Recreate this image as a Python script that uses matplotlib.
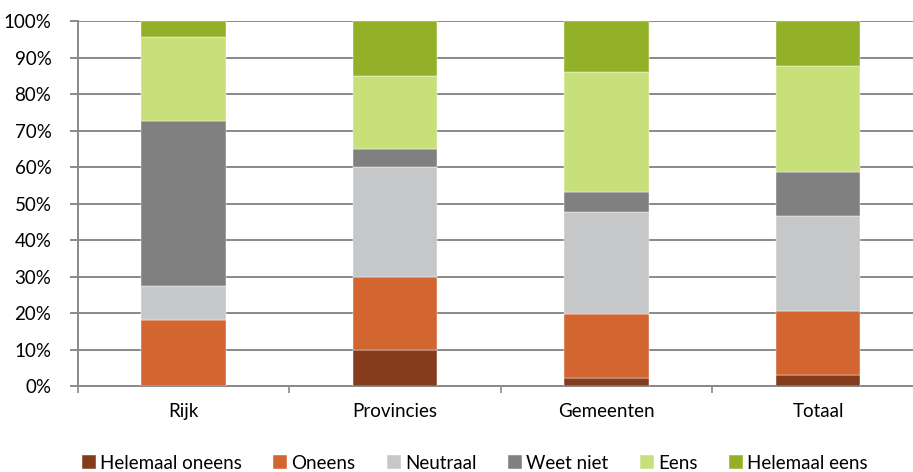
import matplotlib.pyplot as plt
import numpy as np

plt.rcParams['font.family'] = ['Lato', 'DejaVu Sans']

# categories and answer shares (percent)
categories = ["Rijk", "Provincies", "Gemeenten", "Totaal"]
answers = ["Helemaal oneens", "Oneens", "Neutraal", "Weet niet", "Eens", "Helemaal eens"]
helemaal_oneens = [0.0, 10.0, 2.1, 2.9]
oneens = [18.2, 20.0, 17.5, 17.7]
neutraal = [9.1, 30.0, 28.0, 25.9]
weet_niet = [45.4, 5.0, 5.6, 12.2]
eens = [22.8, 20.0, 32.9, 29.0]
helemaal_eens = [4.5, 15.0, 13.9, 12.3]

colors = ["#843C1C", "#D26530", "#C6C7C8", "#808080", "#C8E07A", "#93B029"]
series = [helemaal_oneens, oneens, neutraal, weet_niet, eens, helemaal_eens]

fig = plt.figure(figsize=(9.13, 4.72), dpi=100)
ax = fig.add_axes([0.0852, 0.1822, 0.9266, 0.7733])

x = np.arange(len(categories))
bottom = np.zeros(len(categories))
for vals, col, name in zip(series, colors, answers):
    ax.bar(x, vals, width=0.40, bottom=bottom, color=col, label=name,
           edgecolor="white", linewidth=0.3, zorder=3)
    bottom += np.array(vals)

fs = 13.5
ax.set_ylim(0, 100)
ax.set_xlim(-0.5, 3.5)
ax.set_yticks(np.arange(0, 101, 10))
ax.set_yticklabels([f"{v}%" for v in range(0, 101, 10)], fontsize=fs)
ax.yaxis.grid(True, color="#898989", linewidth=1.4, zorder=0)
ax.set_xticks(x)
ax.set_xticklabels(categories, fontsize=fs)
ax.set_xticks(np.arange(-0.5, 3.6, 1), minor=True)
ax.tick_params(axis="x", which="major", length=0, pad=12)
ax.tick_params(axis="x", which="minor", length=5, color="#898989", width=1.2)
ax.tick_params(axis="y", length=6, color="#898989", width=1.4, pad=13)

for side in ["top", "right"]:
    ax.spines[side].set_visible(False)
for side in ["left", "bottom"]:
    ax.spines[side].set_color("#898989")
    ax.spines[side].set_linewidth(1.4)

fig.legend(loc="lower center", bbox_to_anchor=(0.52, -0.035), ncol=6,
           frameon=False, fontsize=fs, handlelength=0.75, handleheight=0.75,
           handletextpad=0.2, columnspacing=1.7)

fig.savefig("out.png", dpi=100)
